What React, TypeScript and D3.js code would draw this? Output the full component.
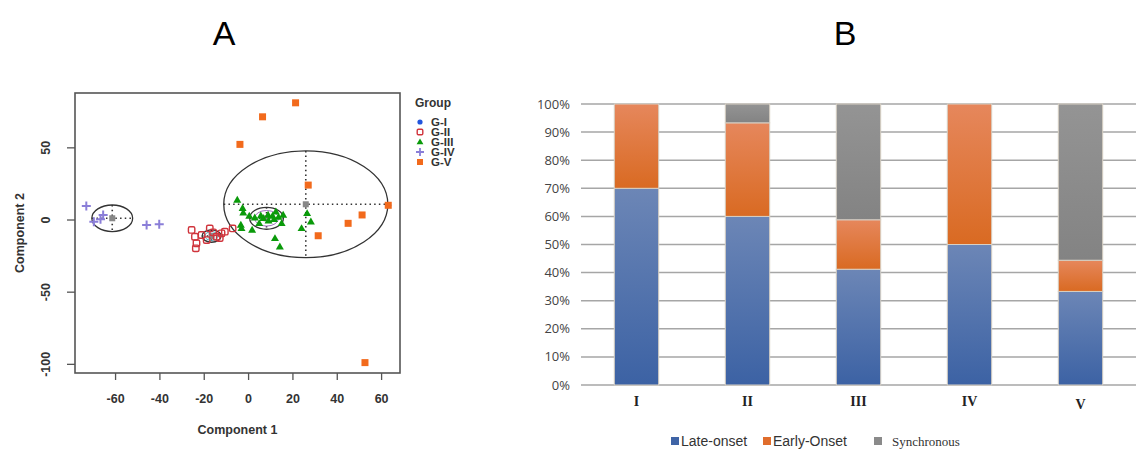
import React from "react";
import * as d3 from "d3";

// ---------- Panel A data ----------
const groupNames = ["G-I", "G-II", "G-III", "G-IV", "G-V"];
const gI: [number, number][] = [[63.0, 10.2]];
const gII: [number, number][] = [
  [-25.7, -6.9], [-24.2, -11.6], [-23.5, -16.1], [-23.8, -19.6], [-21.2, -10.4],
  [-17.5, -5.8], [-18.9, -13.9], [-14.4, -11.6], [-12.2, -9.2], [-10.7, -8.1],
  [-7.2, -5.8], [-16.0, -8.5], [-13.0, -12.5],
];
const gIII: [number, number][] = [
  [-5.1, 13.9], [-2.7, 8.1], [-2.4, 5.1], [0.3, 2.8], [2.8, 1.6], [4.8, -2.3],
  [6.6, 1.2], [8.8, 3.5], [10.8, 2.8], [12.3, 5.7], [15.6, 3.5], [14.9, -2.3],
  [-3.5, -3.5], [-3.2, -5.8], [1.6, -6.9], [11.9, -12.7], [14.1, -18.5],
  [26.4, 4.6], [28.1, -1.2], [23.9, -5.8], [5.5, 3.0], [9.0, -0.5], [11.5, 0.5], [13.5, 2.0],
];
const gIV: [number, number][] = [
  [-73.2, 9.7], [-65.6, 3.5], [-69.8, -1.2], [-66.8, 0.5], [-46.0, -3.5], [-40.3, -3.0],
];
const gV: [number, number][] = [
  [21.2, 81.2], [6.3, 71.5], [-3.9, 52.4], [26.9, 24.2], [63.0, 10.2],
  [51.2, 3.5], [44.9, -2.3], [31.4, -10.9], [52.5, -98.8],
];
// ellipse centres and radii (data units)
const ellCx = [25.8, 8.1, -16.7, -61.5];
const ellCy = [10.9, 1.2, -11.1, 1.2];
const ellR = [37.0, 7.6, 4.3, 9.2];
const innerRings = [
  { cx: 8.1, cy: 1.2, r: 5.4, color: "#a070c0" },
  { cx: -16.7, cy: -11.1, r: 3.0, color: "#40b0c0" },
];
const xTicksA = [-60, -40, -20, 0, 20, 40, 60];
const yTicksA = [50, 0, -50, -100];

// ---------- Panel B data ----------
const cats = ["I", "II", "III", "IV", "V"];
const lateOnset = [70, 60, 41.2, 50, 33.3];
const earlyOnset = [30, 33.3, 17.6, 50, 11.1];
const synchronous = [0, 6.7, 41.2, 0, 55.6];
const seriesNames = ["Late-onset", "Early-Onset", "Synchronous"];
const yTicksB = [0, 10, 20, 30, 40, 50, 60, 70, 80, 90, 100];

export default function App() {
  // Panel A scales
  const xA = d3.scaleLinear().domain([-78.3, 68.3]).range([75, 400]);
  const yA = d3.scaleLinear().domain([-106, 88]).range([373, 93]);
  const fontA = "'Liberation Sans', Arial, Helvetica, sans-serif";

  // Panel B scales
  const xB = d3.scaleBand<string>().domain(cats).range([581, 1136]).paddingInner(0.6).paddingOuter(0.3);
  const yB = d3.scaleLinear().domain([0, 100]).range([385, 104]);
  const stackData = cats.map((c, i) => ({ cat: c, late: lateOnset[i], early: earlyOnset[i], sync: synchronous[i] }));
  const stacked = d3.stack<any>().keys(["late", "early", "sync"])(stackData);
  const grads = ["gBlue", "gOrange", "gGray"];
  const legendCols = ["#3f64a6", "#e06d2c", "#8a8a8a"];

  const cross = (x: number, y: number, s: number) => `M${x - s},${y}H${x + s}M${x},${y - s}V${y + s}`;
  const tri = (x: number, y: number, s: number) => `M${x},${y - s}L${x + s * 0.95},${y + s * 0.65}L${x - s * 0.95},${y + s * 0.65}Z`;

  return (
    <svg width={1139} height={451} style={{ display: "block", position: "absolute", left: 0, top: 0 }}>
      <defs>
        <linearGradient id="gBlue" x1="0" y1="0" x2="0" y2="1">
          <stop offset="0%" stopColor="#6c86b6" />
          <stop offset="100%" stopColor="#3c62a4" />
        </linearGradient>
        <linearGradient id="gOrange" x1="0" y1="0" x2="0" y2="1">
          <stop offset="0%" stopColor="#e6875c" />
          <stop offset="100%" stopColor="#d96a22" />
        </linearGradient>
        <linearGradient id="gGray" x1="0" y1="0" x2="0" y2="1">
          <stop offset="0%" stopColor="#949494" />
          <stop offset="100%" stopColor="#838383" />
        </linearGradient>
      </defs>
      <rect width={1139} height={451} fill="#fff" />

      {/* titles */}
      <text x={224} y={45} textAnchor="middle" fontSize={34} fontFamily="'Liberation Sans Narrow', 'Liberation Sans', Arial, sans-serif">A</text>
      <text x={845} y={45} textAnchor="middle" fontSize={34} fontFamily="'Liberation Sans Narrow', 'Liberation Sans', Arial, sans-serif">B</text>

      {/* ---------- Panel A ---------- */}
      <g fontFamily={fontA}>
        {/* ellipses */}
        {ellR.map((r, i) => {
          const cx = xA(ellCx[i]), cy = yA(ellCy[i]);
          const rx = xA(ellCx[i] + r) - cx, ry = cy - yA(ellCy[i] + r);
          return (
            <g key={"e" + i}>
              <ellipse cx={cx} cy={cy} rx={rx} ry={ry} fill="none" stroke="#333" strokeWidth={1.3} />
              <path d={`M${cx - rx},${cy}H${cx + rx}M${cx},${cy - ry}V${cy + ry}`} stroke="#333" strokeWidth={1.6} strokeDasharray="1.5,3.2" fill="none" />
              <rect x={cx - 3} y={cy - 3} width={6} height={6} fill="#888" />
            </g>
          );
        })}
        {innerRings.map((r, i) => {
          const cx = xA(r.cx), cy = yA(r.cy);
          return <ellipse key={"ir" + i} cx={cx} cy={cy} rx={xA(r.cx + r.r) - cx} ry={cy - yA(r.cy + r.r)} fill="none" stroke={r.color} strokeWidth={1} />;
        })}
        {/* points */}
        {gI.map((p, i) => <circle key={"a" + i} cx={xA(p[0])} cy={yA(p[1])} r={3} fill="#2255dd" />)}
        {gII.map((p, i) => (
          <rect key={"b" + i} x={xA(p[0]) - 3.2} y={yA(p[1]) - 3.2} width={6.4} height={6.4} rx={1.5} fill="none" stroke="#d0343c" strokeWidth={1.4} />
        ))}
        {gIII.map((p, i) => <path key={"c" + i} d={tri(xA(p[0]), yA(p[1]), 4.2)} fill="#0a9a0a" />)}
        {gIV.map((p, i) => <path key={"d" + i} d={cross(xA(p[0]), yA(p[1]), 4.5)} stroke="#8a7ed8" strokeWidth={2} fill="none" />)}
        {gV.map((p, i) => <rect key={"f" + i} x={xA(p[0]) - 3.5} y={yA(p[1]) - 3.5} width={7} height={7} fill="#f26a1c" />)}

        {/* box */}
        <rect x={75} y={93} width={325} height={280} fill="none" stroke="#555" strokeWidth={1.6} />
        {/* x axis */}
        {xTicksA.map((t) => (
          <g key={"xt" + t}>
            <line x1={xA(t)} x2={xA(t)} y1={373} y2={380} stroke="#555" strokeWidth={1.3} />
            <text x={xA(t)} y={403} textAnchor="middle" fontSize={12.5} fontWeight="bold" fill="#333">{t}</text>
          </g>
        ))}
        <text x={237.5} y={434} textAnchor="middle" fontSize={12.5} fontWeight="bold" fill="#333">Component 1</text>
        {/* y axis */}
        {yTicksA.map((t) => (
          <g key={"yt" + t}>
            <line x1={67} x2={75} y1={yA(t)} y2={yA(t)} stroke="#555" strokeWidth={1.3} />
            <text transform={`translate(50,${yA(t)}) rotate(-90)`} textAnchor="middle" fontSize={12.5} fontWeight="bold" fill="#333">{t}</text>
          </g>
        ))}
        <text transform={`translate(24,233) rotate(-90)`} textAnchor="middle" fontSize={12.5} fontWeight="bold" fill="#333">Component 2</text>

        {/* legend */}
        <text x={415} y={107} fontSize={12} fontWeight="bold" fill="#333">Group</text>
        {groupNames.map((g, i) => {
          const y = 122 + i * 10;
          const x = 420;
          let sym: React.ReactNode = null;
          if (i === 0) sym = <circle cx={x} cy={y} r={2.6} fill="#2255dd" />;
          if (i === 1) sym = <rect x={x - 2.8} y={y - 2.8} width={5.6} height={5.6} rx={1.2} fill="none" stroke="#d0343c" strokeWidth={1.4} />;
          if (i === 2) sym = <path d={tri(x, y, 3.6)} fill="#0a9a0a" />;
          if (i === 3) sym = <path d={cross(x, y, 4)} stroke="#8a7ed8" strokeWidth={1.8} fill="none" />;
          if (i === 4) sym = <rect x={x - 3} y={y - 3} width={6} height={6} fill="#f26a1c" />;
          return (
            <g key={"lg" + g}>
              {sym}
              <text x={431} y={y + 4} fontSize={11.5} fontWeight="bold" fill="#333">{g}</text>
            </g>
          );
        })}
      </g>

      {/* ---------- Panel B ---------- */}
      <g>
        {yTicksB.map((t) => (
          <g key={"gb" + t}>
            <line x1={581} x2={1136} y1={yB(t)} y2={yB(t)} stroke="#a6a6a6" strokeWidth={1.5} />
            <text x={570} y={yB(t) + 4.5} textAnchor="end" fontSize={13} fill="#444" fontFamily="'Open Sans', 'Liberation Sans', sans-serif">{t}%</text>
          </g>
        ))}
        {stacked.map((s, si) => (
          <g key={"s" + si}>
            {s.map((d, i) => {
              const h = yB(d[0]) - yB(d[1]);
              if (h <= 0.01) return null;
              return (
                <rect key={i} x={xB(cats[i])!} y={yB(d[1])} width={xB.bandwidth()} height={h} fill={`url(#${grads[si]})`} stroke="#d8d0c4" strokeWidth={1} />
              );
            })}
          </g>
        ))}
        {cats.map((c) => (
          <text key={"xl" + c} x={xB(c)! + xB.bandwidth() / 2} y={c === "V" ? 409 : 406} textAnchor="middle" fontSize={14} fontWeight="bold" fill="#222" fontFamily="'Liberation Serif', 'DejaVu Serif', serif">{c}</text>
        ))}
        {/* legend */}
        {[
          { x: 671, tx: 681 },
          { x: 763, tx: 773 },
          { x: 874, tx: 892 },
        ].map((p, i) => (
          <g key={"lb" + i}>
            <rect x={p.x} y={437} width={8} height={8} fill={legendCols[i]} />
            <text x={p.tx} y={446} fontSize={i === 2 ? 13 : 14} fill="#333" fontFamily={i === 2 ? "'Liberation Serif', serif" : "'Liberation Sans Narrow', 'Liberation Sans', sans-serif"}>{seriesNames[i]}</text>
          </g>
        ))}
      </g>
    </svg>
  );
}
